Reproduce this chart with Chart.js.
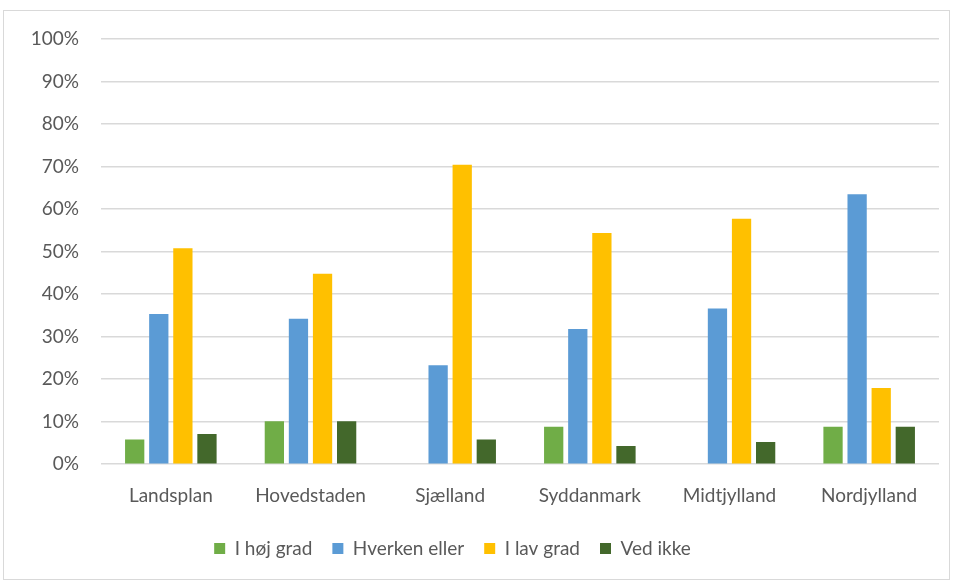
<!DOCTYPE html>
<html>
<head>
<meta charset="utf-8">
<script src="https://cdn.jsdelivr.net/npm/chart.js@4"></script>
<style>
  body { margin: 0; background: #fff; }
  #box { position: absolute; left: 3px; top: 10px; width: 945px; height: 568px; border: 1px solid #d9d9d9; }
</style>
</head>
<body>
<div id="box"><canvas id="canvas" width="945" height="568"></canvas></div>
<script>
var regions = ['Landsplan', 'Hovedstaden', 'Sjælland', 'Syddanmark', 'Midtjylland', 'Nordjylland'];
var iHoejGrad = [5.8, 10.1, 0, 8.8, 0, 8.8];
var hverkenEller = [35.3, 34.2, 23.3, 31.8, 36.6, 63.5];
var iLavGrad = [50.8, 44.8, 70.4, 54.4, 57.7, 17.9];
var vedIkke = [7.1, 10.1, 5.8, 4.3, 5.2, 8.8];

Chart.defaults.font.family = "Lato, 'Liberation Sans', Arial, sans-serif";
Chart.defaults.color = '#595959';

// legend sits a bit left of centre in the original
var shiftLegend = {
  id: 'shiftLegend',
  afterLayout: function(chart) {
    chart.legend.left -= 19;
    chart.legend.right -= 19;
  }
};

var ctx = document.getElementById('canvas').getContext('2d');
var mychart = new Chart(ctx, {
  type: 'bar',
  data: {
    labels: regions,
    datasets: [
      { label: 'I høj grad', data: iHoejGrad, backgroundColor: '#70AD47' },
      { label: 'Hverken eller', data: hverkenEller, backgroundColor: '#5B9BD5' },
      { label: 'I lav grad', data: iLavGrad, backgroundColor: '#FFC000' },
      { label: 'Ved ikke', data: vedIkke, backgroundColor: '#43682B' }
    ]
  },
  plugins: [shiftLegend],
  options: {
    responsive: false,
    animation: false,
    datasets: { bar: { categoryPercentage: 0.69, barPercentage: 0.8 } },
    layout: { padding: { top: 28, right: 10, left: 0, bottom: 11 } },
    plugins: {
      tooltip: { enabled: false },
      legend: {
        position: 'bottom',
        labels: { boxWidth: 11, boxHeight: 11, padding: 20, font: { size: 19 } }
      }
    },
    scales: {
      x: {
        grid: { display: false },
        border: { display: false },
        ticks: { font: { size: 19 }, padding: 12 }
      },
      y: {
        min: 0,
        max: 100,
        ticks: { stepSize: 10, font: { size: 19 }, padding: 22, callback: function(v) { return v + '%'; } },
        grid: { color: '#d9d9d9', lineWidth: 1.5, drawTicks: false },
        border: { display: false },
        afterFit: function(s) {
          s.width = 97;
          s.paddingTop = 0;
          s.paddingBottom = 0;
        }
      }
    }
  }
});
</script>
</body>
</html>
